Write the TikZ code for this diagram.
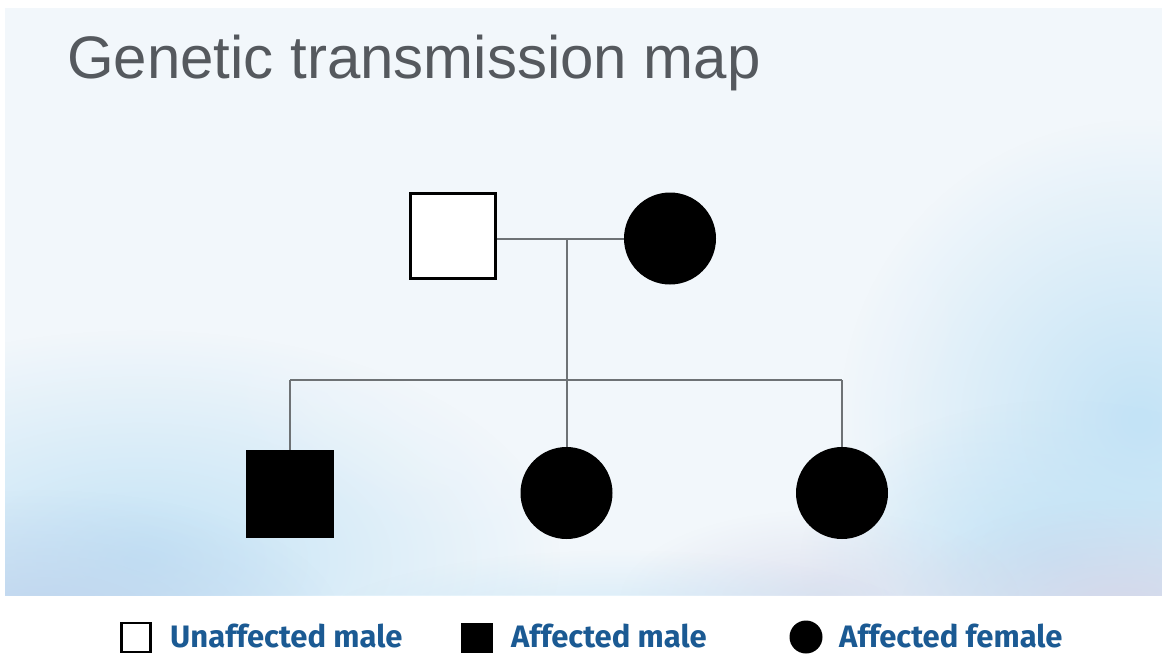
\documentclass[tikz,border=0pt]{standalone}
\usepackage{fontspec}
\setmainfont{Liberation Sans}
\newfontfamily\legfont{Fira Sans}
\usetikzlibrary{fadings}
\tikzfading[name=softblob, inner color=transparent!0, outer color=transparent!100]
\definecolor{bgtop}{HTML}{F2F7FB}
\definecolor{blueA}{HTML}{C3E3F6}
\definecolor{blueB}{HTML}{BFD5EE}
\definecolor{lavA}{HTML}{D6D8EA}
\definecolor{titleclr}{HTML}{55595E}
\definecolor{lineclr}{HTML}{6E7275}
\definecolor{legclr}{HTML}{1B5A93}
\tikzset{
  pline/.style={draw=lineclr, line width=2},
  umale/.style={rectangle, draw=black, line width=3, fill=white, inner sep=0, minimum size=85},
  amale/.style={rectangle, fill=black, inner sep=0, minimum size=88},
  afemale/.style={circle, fill=black, inner sep=0, minimum size=92},
  legtext/.style={anchor=base west, inner sep=0, text=legclr, font=\legfont\bfseries\fontsize{31}{36}\selectfont},
}
\begin{document}
\begin{tikzpicture}[x=1pt,y=-1pt]
\useasboundingbox (0,0) rectangle (1162,654);
\fill[white] (0,0) rectangle (1162,654);
\begin{scope}
  \clip (5,8) rectangle (1162,595);
  \fill[bgtop] (5,8) rectangle (1162,595);
  \fill[blueA, path fading=softblob] (140,560) ellipse (420 and 230);
  \fill[blueB, path fading=softblob] (40,620) ellipse (300 and 130);
  \fill[blueA, path fading=softblob] (1140,420) ellipse (300 and 300);
  \fill[blueA, path fading=softblob] (1060,560) ellipse (260 and 160);
  \fill[lavA, path fading=softblob] (1120,610) ellipse (220 and 110);
  \fill[lavA, path fading=softblob, opacity=0.7] (820,600) ellipse (200 and 90);
  \fill[blueA, path fading=softblob, opacity=0.8] (620,640) ellipse (320 and 90);
  \fill[bgtop, path fading=softblob, opacity=0.9] (580,300) ellipse (400 and 260);
\end{scope}

\node[anchor=base west, inner sep=0, text=titleclr, font=\fontsize{60}{70}\selectfont] (title) at (67,78) {Genetic transmission map};

\node[umale] (f) at (452.5,235.5) {};
\node[afemale] (m) at (670,238.5) {};
\coordinate (mar) at (566.5,239);
\coordinate (sib) at (566.5,380);

\node[amale] (c1) at (290,494) {};
\node[afemale] (c2) at (566.5,493) {};
\node[afemale] (c3) at (842,493) {};

\draw[pline] (f.east |- mar) -- (m.west |- mar);
\draw[pline] (mar) -- (sib);
\draw[pline] (c1.north |- sib) -- (c3.north |- sib);
\draw[pline] (c1.north |- sib) -- (c1.north);
\draw[pline] (sib) -- (c2.north);
\draw[pline] (c3.north |- sib) -- (c3.north);

\node[rectangle, draw=black, line width=2.5, fill=white, minimum size=29, inner sep=0] (l1) at (136,637.5) {};
\node[legtext] (t1) at (170,647) {Unaffected male};
\node[rectangle, fill=black, minimum width=32, minimum height=30, inner sep=0] (l2) at (477,637.5) {};
\node[legtext] (t2) at (511,647) {Affected male};
\node[circle, fill=black, minimum size=33, inner sep=0] (l3) at (806,637) {};
\node[legtext] (t3) at (839,647) {Affected female};
\end{tikzpicture}
\end{document}
